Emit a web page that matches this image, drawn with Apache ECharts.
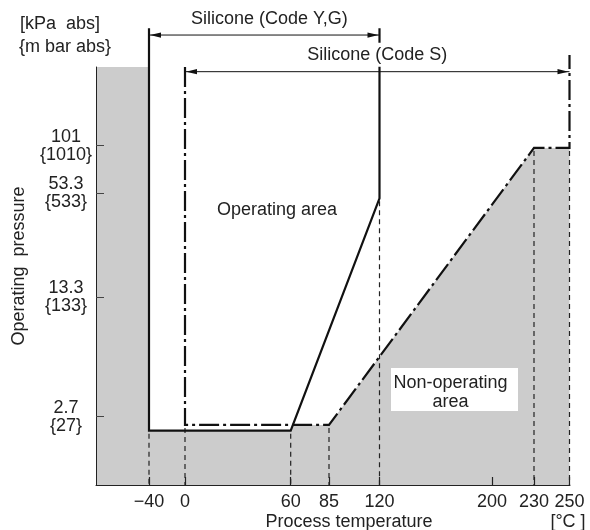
<!DOCTYPE html>
<html>
<head>
<meta charset="utf-8">
<script src="https://cdn.jsdelivr.net/npm/echarts@6/dist/echarts.min.js"></script>
<style>html,body{margin:0;padding:0;background:#fff}#c{width:590px;height:530px}</style>
</head>
<body>
<div id="c"></div>
<script>
// ---------------- data ----------------
const xTicks = [-40, 0, 60, 85, 120, 200, 230, 250];
const xTickLabels = ['\u221240', '0', '60', '85', '120', '200', '230', '250'];
const yTicks = [2.7, 13.3, 53.3, 101];
const yTickLabels = ['2.7\n{27}', '13.3\n{133}', '53.3\n{533}', '101\n{1010}'];

// Silicone (Code Y,G) limit, solid line: temperature [°C], pressure [kPa abs]
const codeYGTemp = [-40, -40, 60, 120, 120];
const codeYGPres = [485, 2.24, 2.24, 50, 485];
// Silicone (Code S) limit, dash-dot line
const codeSTemp = [0, 0, 85, 230, 250, 250];
const codeSPres = [289, 2.42, 2.42, 98, 98, 339];
// dashed drop lines to the temperature axis
const dropTemp = [-40, 0, 60, 85, 120, 230, 250];
const dropPres = [2.24, 2.42, 2.24, 2.42, 50, 98, 98];
// temperature ranges (double arrows)
const rangeFrom = [-40, 0];
const rangeTo = [120, 250];
const rangeLevel = [443, 271.5];
const rangeLabels = ['Silicone (Code Y,G)', 'Silicone (Code S)'];

// ---------------- scales ----------------
// the original temperature axis is not uniform: tick offsets (px) from the plot's left edge
const X_SCALE_POS = [53, 89, 194.7, 233, 283.5, 396, 438, 473.5];
const X_SPAN = 474;
function tx(t) {
  const n = xTicks.length;
  let i = 0;
  if (t <= xTicks[0]) i = 0;
  else if (t >= xTicks[n - 1]) i = n - 2;
  else { while (t > xTicks[i + 1]) i++; }
  const f = (t - xTicks[i]) / (xTicks[i + 1] - xTicks[i]);
  return X_SCALE_POS[i] + f * (X_SCALE_POS[i + 1] - X_SCALE_POS[i]);
}
const ly = v => Math.log10(v);
const Y_MIN = 1.084, Y_MAX = 289;
function nearest(v, vals, labels) {
  let b = 0;
  for (let i = 1; i < vals.length; i++) if (Math.abs(vals[i] - v) < Math.abs(vals[b] - v)) b = i;
  return labels[b];
}
const FONT = '"Liberation Sans", Arial, Helvetica, sans-serif';
const TXT = '#222';

const xTickPos = xTicks.map(tx);
const yTickPos = yTicks.map(ly);

// lower envelope of the operating area (non-operating area boundary)
const ygMin = codeYGPres[1], sMin = codeSPres[1];
// where the Y,G slope crosses the Code S minimum line
const slopeX0 = tx(codeYGTemp[2]), slopeX1 = tx(codeYGTemp[3]);
const slopeY0 = ly(codeYGPres[2]), slopeY1 = ly(codeYGPres[3]);
const crossX = slopeX0 + (ly(sMin) - slopeY0) / (slopeY1 - slopeY0) * (slopeX1 - slopeX0);
const greyData = [
  [0, ly(Y_MAX)],
  [tx(codeYGTemp[0]), ly(Y_MAX)],
  [tx(codeYGTemp[1]), ly(ygMin)],
  [tx(codeYGTemp[2]), ly(ygMin)],
  [crossX, ly(sMin)],
  [tx(codeSTemp[2]), ly(codeSPres[2])],
  [tx(codeSTemp[3]), ly(codeSPres[3])],
  [tx(codeSTemp[4]), ly(codeSPres[4])],
  [tx(codeSTemp[4]), ly(Y_MIN)]
];

const chart = echarts.init(document.getElementById('c'));
chart.setOption({
  animation: false,
  backgroundColor: '#fff',
  grid: { left: 96, right: 20, top: 67, bottom: 45, containLabel: false, outerBoundsMode: 'none' },
  xAxis: {
    type: 'value', min: 0, max: X_SPAN, z: 10,
    axisLine: { show: true, onZero: false, lineStyle: { color: '#222', width: 1 } },
    axisTick: { show: true, inside: true, length: 8, customValues: xTickPos, lineStyle: { color: '#222', width: 1.2 } },
    axisLabel: {
      customValues: xTickPos, margin: 8, fontSize: 18, color: TXT, fontFamily: FONT,
      formatter: v => nearest(v, xTickPos, xTickLabels)
    },
    splitLine: { show: false }
  },
  yAxis: {
    type: 'value', min: ly(Y_MIN), max: ly(Y_MAX), z: 10,
    axisLine: { show: true, onZero: false, lineStyle: { color: '#222', width: 1 } },
    axisTick: { show: true, inside: true, length: 8, customValues: yTickPos, lineStyle: { color: '#444', width: 1 } },
    axisLabel: {
      customValues: yTickPos, margin: 30, align: 'center', fontSize: 18, lineHeight: 18,
      color: TXT, fontFamily: FONT,
      formatter: v => nearest(v, yTickPos, yTickLabels)
    },
    splitLine: { show: false }
  },
  series: [
    {
      name: 'Non-operating area', type: 'line', z: 1, silent: true,
      data: greyData, showSymbol: false, symbol: 'none',
      lineStyle: { width: 0 }, areaStyle: { color: '#cccccc', opacity: 1, origin: 'start' }
    },
    {
      name: 'drops', type: 'custom', z: 2, silent: true, clip: false,
      data: dropTemp.map((t, i) => [tx(t), ly(dropPres[i])]),
      encode: { x: 0, y: 1 },
      renderItem: (params, api) => {
        const p = api.coord([api.value(0), api.value(1)]);
        const b = api.coord([api.value(0), ly(Y_MIN)]);
        return {
          type: 'line',
          shape: { x1: p[0], y1: p[1] + 3, x2: b[0], y2: b[1] },
          style: { stroke: '#222', lineWidth: 1.2, lineDash: [5, 4] }
        };
      }
    },
    {
      name: 'Silicone (Code S)', type: 'line', z: 3, clip: false, silent: true,
      data: codeSTemp.map((t, i) => [tx(t), ly(codeSPres[i])]),
      showSymbol: false, symbol: 'none',
      lineStyle: { color: '#111', width: 2.2, type: [20, 4, 3, 4], join: 'miter', cap: 'butt' }
    },
    {
      name: 'Silicone (Code Y,G)', type: 'line', z: 4, clip: false, silent: true,
      data: codeYGTemp.map((t, i) => [tx(t), ly(codeYGPres[i])]),
      showSymbol: false, symbol: 'none',
      lineStyle: { color: '#111', width: 2.2, join: 'miter' }
    },
    {
      name: 'ranges', type: 'custom', z: 6, silent: true, clip: false,
      data: rangeFrom.map((f, i) => [tx(f), tx(rangeTo[i]), ly(rangeLevel[i])]),
      encode: { x: [0, 1], y: 2 },
      renderItem: (params, api) => {
        const i = params.dataIndex;
        const a = api.coord([api.value(0), api.value(2)]);
        const b = api.coord([api.value(1), api.value(2)]);
        const y = a[1], hl = 12, hw = 2.6;
        return {
          type: 'group',
          children: [
            { type: 'line', shape: { x1: a[0], y1: y, x2: b[0], y2: y }, style: { stroke: '#111', lineWidth: 1 } },
            { type: 'polygon', shape: { points: [[a[0] + 1, y], [a[0] + hl, y - hw], [a[0] + hl, y + hw]] }, style: { fill: '#111' } },
            { type: 'polygon', shape: { points: [[b[0] - 1, y], [b[0] - hl, y - hw], [b[0] - hl, y + hw]] }, style: { fill: '#111' } },
            {
              type: 'text', z2: 10,
              style: {
                text: rangeLabels[i], x: (a[0] + b[0]) / 2 + (i === 0 ? 5 : 0), y: y - (i === 0 ? 16 : 17),
                align: 'center', verticalAlign: 'middle', fill: TXT,
                font: '18px ' + FONT, backgroundColor: '#fff', padding: [3, 4, 3, 4]
              }
            }
          ]
        };
      }
    }
  ],
  graphic: [
    { type: 'text', left: 20, top: 15, style: { text: '[kPa  abs]', font: '18px ' + FONT, fill: TXT } },
    { type: 'text', left: 19, top: 38, style: { text: '{m bar abs}', font: '18px ' + FONT, fill: TXT } },
    { type: 'text', x: 19.5, y: 266, rotation: Math.PI / 2,
      style: { text: 'Operating  pressure', font: '18px ' + FONT, fill: TXT, align: 'center', verticalAlign: 'middle' } },
    { type: 'text', x: 349, y: 522, style: { text: 'Process temperature', font: '18px ' + FONT, fill: TXT, align: 'center', verticalAlign: 'middle' } },
    { type: 'text', x: 568, y: 522, style: { text: '[\u00b0C ]', font: '18px ' + FONT, fill: TXT, align: 'center', verticalAlign: 'middle' } },
    { type: 'text', x: 277, y: 210, style: { text: 'Operating area', font: '18px ' + FONT, fill: TXT, align: 'center', verticalAlign: 'middle' } },
    { type: 'rect', shape: { x: 391, y: 368, width: 127, height: 43 }, style: { fill: '#fff' }, z: 50 },
    { type: 'text', x: 450.5, y: 392.5, z: 51,
      style: { text: 'Non-operating\narea', font: '18px ' + FONT, lineHeight: 18.4, fill: TXT, align: 'center', verticalAlign: 'middle' } }
  ]
});
</script>
</body>
</html>
